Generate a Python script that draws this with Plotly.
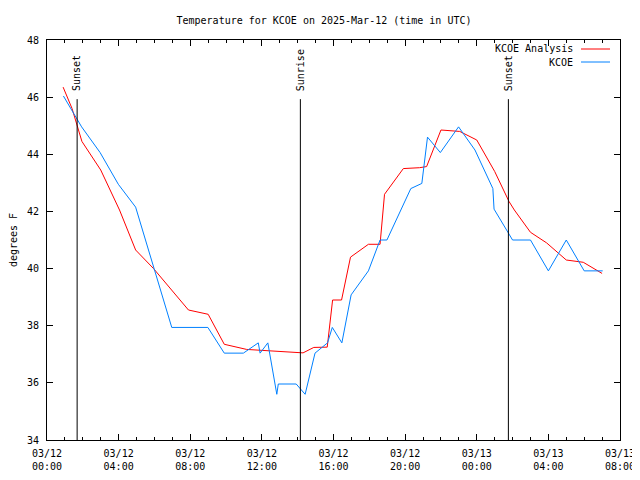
import plotly.graph_objects as go

analysis_times = ["2025-03-12 00:54", "2025-03-12 01:24", "2025-03-12 01:57", "2025-03-12 03:00",
                  "2025-03-12 04:03", "2025-03-12 04:57", "2025-03-12 05:57", "2025-03-12 07:54",
                  "2025-03-12 09:00", "2025-03-12 09:54", "2025-03-12 11:09", "2025-03-12 12:36",
                  "2025-03-12 14:18", "2025-03-12 14:54", "2025-03-12 15:39", "2025-03-12 15:57",
                  "2025-03-12 16:27", "2025-03-12 16:57", "2025-03-12 17:57", "2025-03-12 18:36",
                  "2025-03-12 18:51", "2025-03-12 19:54", "2025-03-12 20:48", "2025-03-12 21:12",
                  "2025-03-12 22:00", "2025-03-12 23:03", "2025-03-13 00:00", "2025-03-13 01:00",
                  "2025-03-13 01:48", "2025-03-13 02:06", "2025-03-13 03:00", "2025-03-13 03:54",
                  "2025-03-13 05:00", "2025-03-13 05:57", "2025-03-13 07:00"]
analysis_temps = [46.35, 45.6, 44.45, 43.45, 42.05, 40.65, 40.0, 38.55,
                  38.4, 37.35, 37.17, 37.12, 37.05, 37.24, 37.25, 38.9,
                  38.9, 40.4, 40.85, 40.85, 42.6, 43.5, 43.53, 43.57,
                  44.85, 44.8, 44.5, 43.4, 42.35, 42.05, 41.27, 40.9,
                  40.3, 40.22, 39.83]

obs_times = ["2025-03-12 00:55", "2025-03-12 01:56", "2025-03-12 02:58", "2025-03-12 03:59",
             "2025-03-12 04:57", "2025-03-12 06:58", "2025-03-12 08:59", "2025-03-12 09:54",
             "2025-03-12 10:58", "2025-03-12 11:48", "2025-03-12 11:54", "2025-03-12 12:20",
             "2025-03-12 12:50", "2025-03-12 12:55", "2025-03-12 13:55", "2025-03-12 14:25",
             "2025-03-12 14:58", "2025-03-12 15:40", "2025-03-12 15:56", "2025-03-12 16:28",
             "2025-03-12 16:59", "2025-03-12 17:57", "2025-03-12 18:36", "2025-03-12 18:59",
             "2025-03-12 20:19", "2025-03-12 20:56", "2025-03-12 21:15", "2025-03-12 21:58",
             "2025-03-12 22:59", "2025-03-12 23:54", "2025-03-13 00:54", "2025-03-13 00:58",
             "2025-03-13 02:00", "2025-03-13 03:00", "2025-03-13 04:00", "2025-03-13 05:00",
             "2025-03-13 06:00", "2025-03-13 07:02"]
obs_temps = [46.04, 44.96, 44.06, 42.95, 42.15, 37.94, 37.94, 37.04,
             37.04, 37.4, 37.04, 37.4, 35.6, 35.96, 35.96, 35.6,
             37.04, 37.4, 37.94, 37.4, 39.08, 39.92, 41.0, 41.0,
             42.8, 42.98, 44.6, 44.06, 44.96, 44.15, 42.8, 42.08,
             41.0, 41.0, 39.92, 41.0, 39.92, 39.92]

sun_times = ["2025-03-12 01:41", "2025-03-12 14:09", "2025-03-13 01:46"]
sun_labels = ["Sunset", "Sunrise", "Sunset"]

tick_vals = ["2025-03-12 00:00", "2025-03-12 04:00", "2025-03-12 08:00", "2025-03-12 12:00",
             "2025-03-12 16:00", "2025-03-12 20:00", "2025-03-13 00:00", "2025-03-13 04:00",
             "2025-03-13 08:00"]
tick_text = ["03/12<br>00:00", "03/12<br>04:00", "03/12<br>08:00", "03/12<br>12:00",
             "03/12<br>16:00", "03/12<br>20:00", "03/13<br>00:00", "03/13<br>04:00",
             "03/13<br>08:00"]

FONT = "DejaVu Sans Mono, Liberation Mono, monospace"
RED = "#ff0000"
BLUE = "#0080ff"

# page body adds an 8px margin; figure sized so the plot area lands where gnuplot put it
W, H = 632, 472
L, T, PW, PH = 39, 32, 573, 400

fig = go.Figure()
fig.add_trace(go.Scatter(x=analysis_times, y=analysis_temps, mode="lines",
                         line=dict(color=RED, width=1), name="KCOE Analysis"))
fig.add_trace(go.Scatter(x=obs_times, y=obs_temps, mode="lines",
                         line=dict(color=BLUE, width=1), name="KCOE"))

for t, lab in zip(sun_times, sun_labels):
    fig.add_shape(type="line", x0=t, x1=t, y0=34, y1=45.93, xref="x", yref="y",
                  line=dict(color="black", width=1))
    fig.add_annotation(x=t, y=46.15, xref="x", yref="y", text=lab, textangle=-90,
                       showarrow=False, yanchor="bottom", xanchor="center",
                       font=dict(family=FONT, size=10, color="black"))

# legend drawn gnuplot-style (text left of sample line)
for i, (name, col) in enumerate([("KCOE Analysis", RED), ("KCOE", BLUE)]):
    ypix = 9 + i * 13
    yp = 1 - ypix / PH
    fig.add_annotation(x=528 / PW, y=yp, xref="paper", yref="paper", text=name,
                       showarrow=False, xanchor="right", yanchor="middle",
                       font=dict(family=FONT, size=10, color="black"))
    fig.add_shape(type="line", x0=534 / PW, x1=563 / PW, y0=yp, y1=yp,
                  xref="paper", yref="paper", line=dict(color=col, width=1))

fig.update_layout(
    width=W, height=H,
    margin=dict(l=L, r=W - L - PW, t=T, b=H - T - PH, autoexpand=False),
    paper_bgcolor="white", plot_bgcolor="white",
    showlegend=False,
    font=dict(family=FONT, size=10, color="black"),
    title=dict(text="Temperature for KCOE on 2025-Mar-12 (time in UTC)", x=0.5, xanchor="center",
               y=1 - 12 / H, yanchor="middle", automargin=False,
               font=dict(family=FONT, size=10, color="black")),
    xaxis=dict(type="date", range=["2025-03-12 00:00", "2025-03-13 08:00"], automargin=False,
               tickvals=tick_vals, ticktext=tick_text, ticks="inside", ticklen=6,
               tickcolor="black", showgrid=False, zeroline=False, showline=True,
               linecolor="black", linewidth=1, mirror="allticks", ticklabelstandoff=4,
               minor=dict(dtick=3600000, ticks="inside", ticklen=3, tickcolor="black", showgrid=False),
               tickfont=dict(family=FONT, size=10, color="black")),
    yaxis=dict(range=[34, 48], dtick=2, tick0=34, ticks="inside", ticklen=6, tickcolor="black",
               automargin=False, ticklabelstandoff=5,
               showgrid=False, zeroline=False, showline=True, linecolor="black", linewidth=1,
               mirror="allticks", title=dict(text="degrees F", standoff=14,
                                             font=dict(family=FONT, size=10, color="black")),
               tickfont=dict(family=FONT, size=10, color="black")),
)

fig.write_html("out.html")
